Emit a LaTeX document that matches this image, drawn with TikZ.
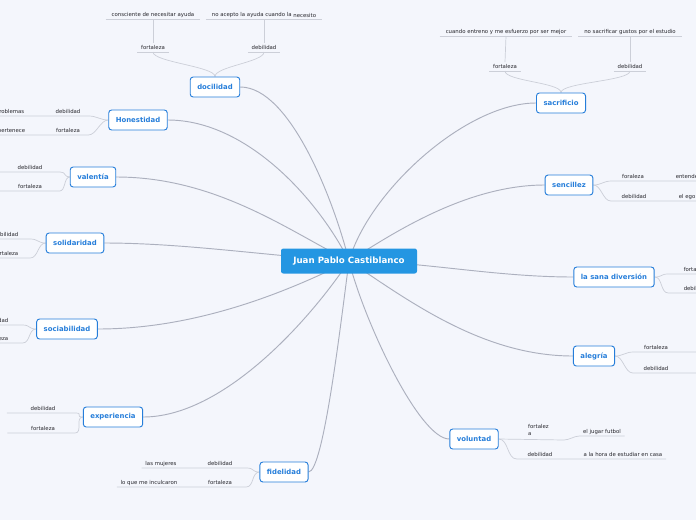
\documentclass[tikz,border=0pt]{standalone}
\usepackage{fontspec}
\setmainfont{DejaVu Sans}
\usetikzlibrary{backgrounds}
\definecolor{paper}{RGB}{244,246,252}
\definecolor{rootblue}{RGB}{36,150,226}
\definecolor{topicblue}{RGB}{38,126,218}
\definecolor{branchgray}{RGB}{172,176,190}
\definecolor{twiggray}{RGB}{204,207,216}
\definecolor{leaftext}{RGB}{40,40,46}

\tikzset{
  root/.style={fill=rootblue, text=white, rounded corners=2pt,
    font=\fontsize{7.4}{9}\selectfont\bfseries,
    minimum width=4.08cm, minimum height=0.75cm, inner sep=0pt},
  topic/.style={draw=topicblue, fill=white, text=topicblue, line width=0.8pt,
    rounded corners=2.5pt, font=\fontsize{5.9}{7}\selectfont\bfseries,
    minimum height=0.6cm, inner xsep=6pt},
  leaf/.style={font=\fontsize{4.6}{5.8}\selectfont, text=leaftext,
    inner xsep=3pt, inner ysep=1.5pt, text height=3.4pt, text depth=0.8pt},
  branch/.style={draw=branchgray, line width=0.8pt},
  twig/.style={draw=twiggray, line width=0.6pt},
}

\begin{document}
\begin{tikzpicture}[x=0.03cm,y=-0.03cm]
  \useasboundingbox (0,0) rectangle (696,520);

  % nodo central
  \node[root] (jp) at (349,261) {Juan Pablo Castiblanco};

  % temas
  \node[topic] (doc) at (215,87) {docilidad};
  \node[topic] (hon) at (138,120) {Honestidad};
  \node[topic] (val) at (93,177) {valentía};
  \node[topic] (sol) at (75,243) {solidaridad};
  \node[topic] (soc) at (67,329) {sociabilidad};
  \node[topic] (exp) at (113,417) {experiencia};
  \node[topic] (fid) at (284,472) {fidelid\raisebox{-0.6pt}{ad}};
  \node[topic] (sac) at (561,103) {sacrificio};
  \node[topic] (sen) at (569,185) {sencillez};
  \node[topic] (lsd) at (614,277) {la sana diversión};
  \node[topic] (ale) at (594,356) {alegría};
  \node[topic] (vol) at (474,439) {voluntad};

  % docilidad
  \node[leaf,anchor=south] (docF) at (153,52) {fortaleza};
  \node[leaf,anchor=south] (docD) at (264,52) {debilidad};
  \node[leaf,anchor=south,inner xsep=5pt] (docF1) at (153,19) {consciente de necesitar ayuda};
  \node[leaf,anchor=south,inner xsep=5pt] (docD1) at (264,19) {no acepto la ayuda cuando la \raisebox{-1.2pt}{necesito}};

  % Honestidad
  \node[leaf,anchor=south] (honD) at (68,116) {debilidad};
  \node[leaf,anchor=south east] (honDP) at (28,116) {problemas};
  \node[leaf,anchor=south] (honF) at (68,135) {fortaleza};
  \node[leaf,anchor=south east] (honFP) at (29,135) {pertenece};

  % valentia
  \node[leaf,anchor=south] (valD) at (30,172) {debilidad};
  \node[leaf,anchor=south] (valF) at (30,191) {fortaleza};

  % solidaridad
  \node[leaf,anchor=south east] (solD) at (22,239) {debilidad};
  \node[leaf,anchor=south east] (solF) at (22,258) {fortaleza};

  % sociabilidad
  \node[leaf,anchor=south east] (socD) at (12,325) {debilidad};
  \node[leaf,anchor=south east] (socF) at (12,343) {fortaleza};

  % experiencia
  \node[leaf,anchor=south] (expD) at (43,413) {debilidad};
  \node[leaf,anchor=south] (expF) at (43,433) {fortaleza};

  % fidelidad
  \node[leaf,anchor=south] (fidD) at (220,468) {debilidad};
  \node[leaf,anchor=south] (fidDP) at (161,468) {las mujeres};
  \node[leaf,anchor=south] (fidF) at (220,487) {fortaleza};
  \node[leaf,anchor=south] (fidFP) at (149,487) {lo que me inculcaron};

  % sacrificio
  \node[leaf,anchor=south] (sacF) at (505,71) {fortaleza};
  \node[leaf,anchor=south] (sacD) at (630,71) {debilidad};
  \node[leaf,anchor=south,inner xsep=5pt] (sacF1) at (506,36) {cuando entreno y me esfuerzo por ser mejor};
  \node[leaf,anchor=south,inner xsep=5pt] (sacD1) at (630,36) {no sacrificar gustos por el estudio};

  % sencillez
  \node[leaf,anchor=south] (senF) at (633,181) {foraleza};
  \node[leaf,anchor=south west] (senF1) at (672,181) {entender};
  \node[leaf,anchor=south] (senD) at (634,201) {debilidad};
  \node[leaf,anchor=south west] (senD1) at (675,201) {el ego};

  % la sana diversion
  \node[leaf,anchor=south west] (lsdF) at (680,274) {fortaleza};
  \node[leaf,anchor=south west] (lsdD) at (680,293) {debilidad};

  % alegria
  \node[leaf,anchor=south] (aleF) at (656,352) {fortaleza};
  \node[leaf,anchor=south] (aleD) at (656,373) {debilidad};

  % voluntad
  \node[leaf,anchor=north west,align=left,text height=,text depth=,inner sep=0pt] (volF) at (528,424) {fortalez\\a};
  \node[leaf,anchor=south] (volF1) at (602,436) {el jugar futbol};
  \node[leaf,anchor=south] (volD) at (540,459) {debilidad};
  \node[leaf,anchor=south] (volD1) at (623,459) {a la hora de estudiar en casa};
  \coordinate (volFa) at (564,440);

  \begin{scope}[on background layer]
    \fill[paper] (0,0) rectangle (696,520);

    % ramas principales
    \draw[branch] (doc.east) .. controls +(50,0) and +(-15,-60) .. (jp.center);
    \draw[branch] (hon.east) .. controls +(80,0) and +(-30,-60) .. (jp.center);
    \draw[branch] (val.east) .. controls +(100,0) and +(-60,-30) .. (jp.center);
    \draw[branch] (sol.east) .. controls +(80,0) and +(-80,-5) .. (jp.center);
    \draw[branch] (soc.east) .. controls +(100,0) and +(-60,30) .. (jp.center);
    \draw[branch] (exp.east) .. controls +(80,0) and +(-40,60) .. (jp.center);
    \draw[branch] (fid.east) .. controls +(15,0) and +(-8,60) .. (jp.center);
    \draw[branch] (sac.west) .. controls +(-70,0) and +(20,-70) .. (jp.center);
    \draw[branch] (sen.west) .. controls +(-80,0) and +(40,-25) .. (jp.center);
    \draw[branch] (lsd.west) .. controls +(-80,0) and +(70,0) .. (jp.center);
    \draw[branch] (ale.west) .. controls +(-90,0) and +(60,40) .. (jp.center);
    \draw[branch] (vol.west) .. controls +(-30,0) and +(15,60) .. (jp.center);

    % subrayados
    \foreach \n in {docF,docD,docF1,docD1,sacF,sacD,sacF1,sacD1}
      \draw[twig] (\n.south west) -- (\n.south east);

    % ramas arriba
    \draw[twig] (doc.north) .. controls +(0,-10) and +(0,10) .. (docF.south);
    \draw[twig] (doc.north) .. controls +(0,-10) and +(0,10) .. (docD.south);
    \draw[twig] (docF.north) -- (docF1.south);
    \draw[twig] (docD.north) -- (docD1.south);
    \draw[twig] (sac.north) .. controls +(0,-10) and +(0,10) .. (sacF.south);
    \draw[twig] (sac.north) .. controls +(0,-10) and +(0,10) .. (sacD.south);
    \draw[twig] (sacF.north) -- (sacF1.south);
    \draw[twig] (sacD.north) -- (sacD1.south);

    % ramas izquierda
    \draw[twig] (hon.west) .. controls +(-8,0) and +(8,0) .. ([xshift=4pt]honD.south east) -- (honDP.south west);
    \draw[twig] (hon.west) .. controls +(-8,0) and +(8,0) .. ([xshift=4pt]honF.south east) -- (honFP.south west);
    \draw[twig] (val.west) .. controls +(-6,0) and +(6,0) .. ([xshift=12pt]valD.south east) -- (valD.south west) -- ++(-20,0);
    \draw[twig] (val.west) .. controls +(-6,0) and +(6,0) .. ([xshift=12pt]valF.south east) -- (valF.south west) -- ++(-20,0);
    \draw[twig] (sol.west) .. controls +(-8,0) and +(8,0) .. ([xshift=7pt]solD.south east) -- (solD.south west);
    \draw[twig] (sol.west) .. controls +(-8,0) and +(8,0) .. ([xshift=7pt]solF.south east) -- (solF.south west);
    \draw[twig] (soc.west) .. controls +(-8,0) and +(8,0) .. ([xshift=9pt]socD.south east) -- (socD.south west);
    \draw[twig] (soc.west) .. controls +(-8,0) and +(8,0) .. ([xshift=9pt]socF.south east) -- (socF.south west);
    \draw[twig] (exp.west) .. controls +(-8,0) and +(8,0) .. ([xshift=14pt]expD.south east) -- (expD.south west) -- ++(-20,0);
    \draw[twig] (exp.west) .. controls +(-8,0) and +(8,0) .. ([xshift=14pt]expF.south east) -- (expF.south west) -- ++(-20,0);
    \draw[twig] (fid.west) .. controls +(-8,0) and +(8,0) .. ([xshift=9pt]fidD.south east) -- (fidDP.south west);
    \draw[twig] (fid.west) .. controls +(-8,0) and +(8,0) .. ([xshift=9pt]fidF.south east) -- (fidFP.south west);

    % ramas derecha
    \draw[twig] (sen.east) .. controls +(8,0) and +(-8,0) .. ([xshift=-6pt]senF.south west) -- ++(90,0);
    \draw[twig] (sen.east) .. controls +(8,0) and +(-8,0) .. ([xshift=-6pt]senD.south west) -- ++(90,0);
    \draw[twig] (lsd.east) .. controls +(8,0) and +(-8,0) .. ([xshift=-10pt]lsdF.south west) -- ++(60,0);
    \draw[twig] (lsd.east) .. controls +(8,0) and +(-8,0) .. ([xshift=-10pt]lsdD.south west) -- ++(60,0);
    \draw[twig] (ale.east) .. controls +(8,0) and +(-8,0) .. ([xshift=-6pt]aleF.south west) -- ++(80,0);
    \draw[twig] (ale.east) .. controls +(8,0) and +(-8,0) .. ([xshift=-6pt]aleD.south west) -- ++(80,0);
    \draw[twig] (vol.east) -- (volFa) .. controls +(5,0) and +(-5,0) .. (volF1.south west) -- (volF1.south east);
    \draw[twig] (vol.east) .. controls +(10,0) and +(-10,0) .. ([xshift=-6pt]volD.south west) -- (volD1.south east);
  \end{scope}
\end{tikzpicture}
\end{document}
